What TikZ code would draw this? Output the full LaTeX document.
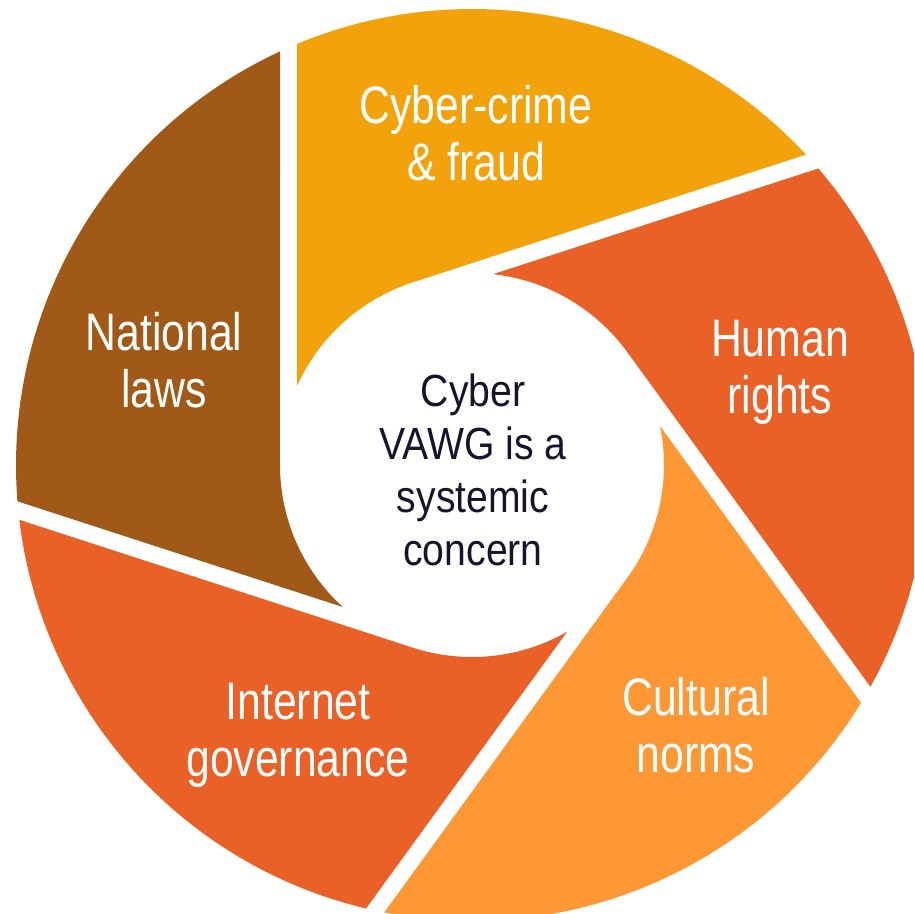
\documentclass[tikz,border=0pt]{standalone}
\usepackage{fontspec}
\newfontfamily\bladefont{Liberation Sans}[FakeStretch=0.81]
\newfontfamily\corefont{Liberation Sans}[FakeStretch=0.87]
\usepackage{tikz}
\usetikzlibrary{math}
\definecolor{vawgBrown}{RGB}{161,89,23}
\definecolor{vawgGold}{RGB}{242,162,10}
\definecolor{vawgRed}{RGB}{234,97,39}
\definecolor{vawgOrange}{RGB}{253,152,52}
\definecolor{vawgInk}{RGB}{20,20,45}
\tikzset{
  blade label/.style={text=white, align=center, font=\bladefont\fontsize{15}{16.3}\selectfont},
  core label/.style={text=vawgInk, align=center, font=\corefont\fontsize{12.8}{15}\selectfont}
}

\begin{document}
\begin{tikzpicture}[x=0.01cm, y=0.01cm]
  \useasboundingbox (-472,-449) rectangle (442,465);
  \clip (-472,-449) rectangle (442,465);
  % outer radius, inner radius, gap between blades
  \def\Ro{456}
  \def\ri{192}
  \def\gap{17}
  \foreach \k/\col in {0/vawgBrown, 1/vawgGold, 2/vawgRed, 3/vawgOrange, 4/vawgRed}{
    \pgfmathsetmacro{\th}{180-72*\k}
    \pgfmathsetmacro{\aone}{\th-acos(\ri/\Ro)}
    \pgfmathsetmacro{\atwo}{\th+72-acos((\ri-\gap)/\ri)}
    \pgfmathsetmacro{\athree}{\th+72-acos((\ri-\gap)/\Ro)}
    \fill[\col] (\aone:\Ro) -- (\th:\ri)
      arc[start angle=\th, end angle=\atwo, radius=\ri]
      -- (\athree:\Ro)
      arc[start angle=\athree, end angle=\aone, radius=\Ro] -- cycle;
  }
  \node[blade label] (crime) at (4,332) {Cyber-crime\\\& fraud};
  \node[blade label] (laws) at (-308,105) {National\\laws};
  \node[blade label] (rights) at (308,93) {Human\\rights};
  \node[blade label] (norms) at (224,-260) {Cultural\\norms};
  \node[blade label] (internet) at (-174,-270) {Internet\\governance};
  \node[core label] (core) at (1,-5) {Cyber\\VAWG is a\\systemic\\concern};
\end{tikzpicture}
\end{document}
